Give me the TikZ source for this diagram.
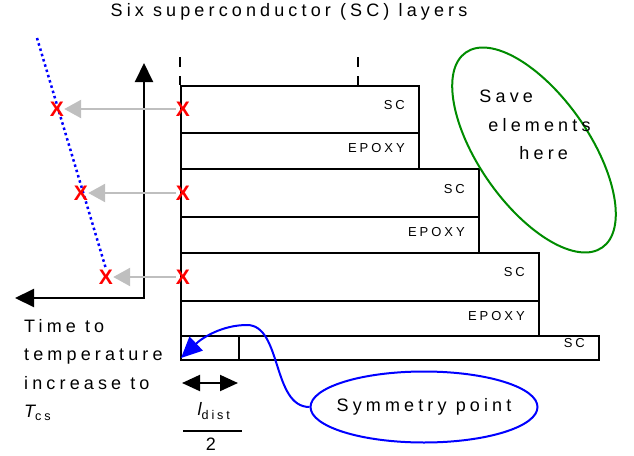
\documentclass[tikz,border=0pt]{standalone}
\usepackage{fontspec}
\setmainfont{Liberation Sans}[LetterSpace=23]
\usetikzlibrary{arrows.meta,positioning,shapes.geometric}

\begin{document}
\begin{tikzpicture}[x=1pt,y=-1pt,
  every node/.style={inner sep=0pt},
  layerbox/.style={draw=black,line width=2pt,anchor=north west},
  lab/.style={font=\fontsize{13}{15}\selectfont,anchor=east},
  txt/.style={font=\fontsize{18}{28.5}\selectfont},
  ttl/.style={font=\fontsize{18}{20}\selectfont},
  xmark/.style={text=red,font=\fontsize{21}{21}\selectfont\bfseries},
  tickline/.style={line width=2pt,dash pattern=on 10pt off 9pt},
  grayarrow/.style={draw=black!25,line width=2.5pt,-{Triangle[length=17pt,width=18pt]}},
  axis/.style={line width=2pt,{Triangle[length=19pt,width=18pt]}-{Triangle[length=19pt,width=18pt]}},
  dotline/.style={draw=blue,line width=2.5pt,dash pattern=on 2.5pt off 3pt},
  bluecurve/.style={draw=blue,line width=2pt,-{Triangle[length=21pt,width=19pt]}},
]
  \useasboundingbox (0,0) rectangle (634,455);
  % ============ title and ticks ============
  \node[ttl] (title) at (289,12) {Six superconductor (SC) layers};
  % ============ layers ============
  \node[layerbox,minimum width=238,minimum height=47] (sc1) at (180,85) {};
  \node[layerbox,minimum width=238,minimum height=36] (ep1) at (180,132) {};
  \node[layerbox,minimum width=298,minimum height=48] (sc2) at (180,168) {};
  \node[layerbox,minimum width=298,minimum height=36] (ep2) at (180,216) {};
  \node[layerbox,minimum width=358,minimum height=48] (sc3) at (180,252) {};
  \node[layerbox,minimum width=358,minimum height=35] (ep3) at (180,300) {};
  \node[layerbox,minimum width=418,minimum height=24] (sc4) at (180,335) {};
  \draw[line width=1.2pt] ([xshift=59pt]sc4.north west) -- ([xshift=59pt]sc4.south west);
  \node[lab] at (405,105) {SC};
  \node[lab] at (405,148) {EPOXY};
  \node[lab] at (465,189) {SC};
  \node[lab] at (465,232) {EPOXY};
  \node[lab] at (525,272) {SC};
  \node[lab] at (525,316) {EPOXY};
  \node[lab] at (585,343) {SC};
  \coordinate (m1) at (180,57);
  \coordinate (m2) at (358,57);
  \draw[tickline] (m1) -- (sc1.north west);
  \draw[tickline] (m2) -- (m2 |- sc1.north);
  % ============ time axis ============
  \coordinate (ytop) at (144,63);
  \coordinate (origin) at (144,298);
  \coordinate (xend) at (15,298);
  \draw[axis] (ytop) -- (origin) -- (xend);
  \coordinate (dtop) at (37,38);
  \coordinate (dend) at (106,269);
  \draw[dotline] (dtop) -- (dend);
  \node[xmark] (xr1) at (183,109) {X};
  \node[xmark] (xr2) at (183,193) {X};
  \node[xmark] (xr3) at (183,277) {X};
  \node[xmark] (xl1) at (57,109) {X};
  \node[xmark] (xl2) at (81,193) {X};
  \node[xmark] (xl3) at (106,277) {X};
  \draw[grayarrow] (xr1) -- (xl1);
  \draw[grayarrow] (xr2) -- (xl2);
  \draw[grayarrow] (xr3) -- (xl3);
  \node[txt,align=left,anchor=north west] (tlab) at (24,319)
    {Time to\\temperature\\increase to\\{\itshape T}\textsubscript{cs}};
  % ============ save region ============
  \node[ellipse,draw={rgb,255:red,0;green,140;blue,0},line width=2pt,
    minimum width=238,minimum height=110,rotate=-55] (save) at (534,150) {};
  \node[txt,align=left] (savetxt) at (535,125)
    {Save\\\hspace*{9pt}elements\\\hspace*{40pt}here};
  % ============ symmetry point ============
  \coordinate (dl) at (182,383);
  \coordinate (dr) at (238,383);
  \draw[axis,{Triangle[length=18pt,width=16pt]}-{Triangle[length=18pt,width=16pt]}] (dl) -- (dr);
  \node[txt] (ldist) at (214,411) {{\itshape l}\textsubscript{dist}};
  \coordinate (fl) at (183,431);
  \coordinate (fr) at (242,431);
  \draw[line width=2pt] (fl) -- (fr);
  \node[txt] (two) at (211,444) {2};
  \node[ellipse,draw=blue,line width=2pt,minimum width=227,minimum height=71] (sym) at (424,407) {};
  \node[txt] (symtxt) at (sym.center) {Symmetry point};
  \coordinate (symtip) at (181,358);
  \draw[bluecurve] (sym.west) .. controls (272,407) and (282,325) .. (247,325)
    .. controls (222,325) and (202,338) .. (symtip);
\end{tikzpicture}
\end{document}
